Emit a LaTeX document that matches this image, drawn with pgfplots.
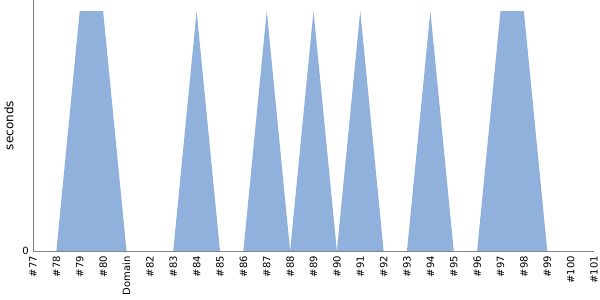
\documentclass[border=0pt]{standalone}
\usepackage{fontspec}
\setmainfont{DejaVu Sans}
\usepackage{pgfplots}
\pgfplotsset{compat=1.18}
\definecolor{areafill}{RGB}{143,177,219}
\definecolor{axgray}{RGB}{128,128,128}
\begin{document}
\begin{tikzpicture}[x=1pt,y=1pt]
\begin{axis}[
  scale only axis,
  width=561pt, height=251pt,
  xmin=0, xmax=24,
  ymin=0, ymax=1.046,
  axis lines*=left,
  axis line style={axgray, line width=0.9pt},
  xtick={0,...,24},
  xticklabels={\#77,\#78,\#79,\#80,Domain,\#82,\#83,\#84,\#85,\#86,\#87,\#88,\#89,\#90,\#91,\#92,\#93,\#94,\#95,\#96,\#97,\#98,\#99,\#100,\#101},
  ytick={0},
  major tick length=0pt,
  /pgf/number format/assume math mode=true,
  tick label style={font=\fontsize{10}{12}\selectfont, black},
  xticklabel style={rotate=90, anchor=east, inner sep=0pt, xshift=0pt},
  yticklabel style={anchor=east, inner sep=1pt},
  xticklabel shift=5pt,
  yticklabel shift=3pt,
  ylabel={seconds},
  ylabel style={font=\fontsize{12}{14}\selectfont, at={(rel axis cs:0,0.5)}, anchor=south, yshift=16pt},
  clip=false,
]
\coordinate (o) at (rel axis cs:0,0);
\addplot[fill=areafill, draw=none] coordinates {
(0,0) (1,0) (2,1) (3,1) (4,0) (5,0) (6,0) (7,1) (8,0) (9,0) (10,1) (11,0) (12,1) (13,0) (14,1) (15,0) (16,0) (17,1) (18,0) (19,0) (20,1) (21,1) (22,0) (23,0) (24,0)
} \closedcycle;
\end{axis}
\pgfresetboundingbox
\path ([shift={(-33pt,-49pt)}]o) rectangle ([shift={(567pt,251pt)}]o);
\end{tikzpicture}
\end{document}
